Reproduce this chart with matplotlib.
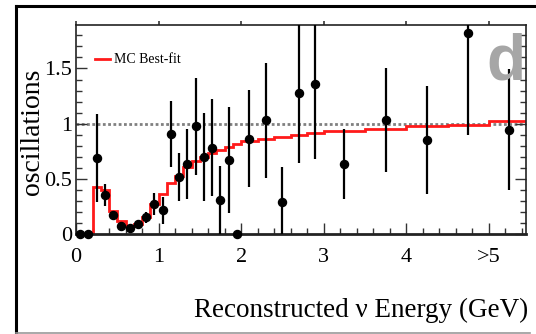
import matplotlib
matplotlib.use("Agg")
import matplotlib.pyplot as plt
from matplotlib.lines import Line2D
from matplotlib.ticker import MultipleLocator

plt.rcParams['font.family'] = ['Liberation Serif', 'DejaVu Serif']

# data points (bin centres, ratio, error)
x_pts = [0.05, 0.15, 0.25, 0.35, 0.45, 0.55, 0.65, 0.75, 0.85, 0.95,
         1.05, 1.15, 1.25, 1.35, 1.45, 1.55, 1.65, 1.75, 1.85, 1.95,
         2.1, 2.3, 2.5, 2.7, 2.9, 3.25, 3.75, 4.25, 4.75, 5.25]
y_pts = [0.0, 0.0, 0.69, 0.355, 0.17, 0.075, 0.05, 0.088, 0.15, 0.275,
         0.215, 0.905, 0.515, 0.636, 0.975, 0.70, 0.78, 0.31, 0.67, 0.0,
         0.864, 1.03, 0.294, 1.28, 1.36, 0.636, 1.03, 0.854, 1.82, 0.945]
y_err = [0.0, 0.0, 0.40, 0.10, 0.04, 0.03, 0.03, 0.03, 0.05, 0.10,
         0.12, 0.30, 0.22, 0.32, 0.44, 0.40, 0.44, 0.31, 0.48, 0.0,
         0.44, 0.52, 0.31, 0.64, 0.68, 0.32, 0.47, 0.49, 0.92, 0.55]

# MC best-fit histogram
mc_edges = [0.0, 0.1, 0.2, 0.3, 0.4, 0.5, 0.6, 0.7, 0.8, 0.9, 1.0,
            1.1, 1.2, 1.3, 1.4, 1.5, 1.6, 1.7, 1.8, 1.9, 2.0,
            2.2, 2.4, 2.6, 2.8, 3.0, 3.5, 4.0, 4.5, 5.0, 5.5]
mc_vals = [0.0, 0.0, 0.43, 0.40, 0.21, 0.12, 0.07, 0.09, 0.15, 0.27,
           0.36, 0.46, 0.53, 0.61, 0.665, 0.70, 0.735, 0.765, 0.79, 0.82,
           0.845, 0.865, 0.88, 0.895, 0.915, 0.935, 0.955, 0.975, 0.99, 1.02]

x_ticks = [0, 1, 2, 3, 4, 5]
x_tick_labels = ["0", "1", "2", "3", "4", ">5"]
y_ticks = [0, 0.5, 1, 1.5]
y_tick_labels = ["0", "0.5", "1", "1.5"]

W, H = 536, 334
fig = plt.figure(figsize=(W / 100, H / 100), dpi=100)
ax = fig.add_axes([76 / W, 1 - 234 / H, 450 / W, 209 / H])

ax.axhline(1.0, color="#808080", ls=(0, (1.0, 0.9)), lw=2.0, zorder=1)
ax.stairs(mc_vals, mc_edges, color="#ff1a1a", lw=2.0, baseline=None, zorder=2)

eb = ax.errorbar(x_pts, y_pts, yerr=y_err, fmt="o", color="black",
                 ms=5.8, elinewidth=1.6, capsize=0, zorder=3)
eb[0].set_clip_on(False)

ax.set_xlim(0, 5.45)
ax.set_ylim(0, 1.894)
ax.set_xticks(x_ticks, x_tick_labels, fontsize=16)
ax.set_yticks(y_ticks, y_tick_labels, fontsize=16)
ax.xaxis.set_minor_locator(MultipleLocator(0.2))
ax.yaxis.set_minor_locator(MultipleLocator(0.1))
ax.tick_params(which="both", direction="in", left=True, right=True,
               bottom=True, top=False, color="#333333", width=1.0)
ax.tick_params(which="major", length=8, pad=3)
ax.tick_params(which="minor", length=4)
ax.tick_params(axis="x", which="major", pad=10)
for s in ax.spines.values():
    s.set_linewidth(1.2)
    s.set_color("#222222")
ax.spines["bottom"].set_linewidth(2.0)

# small outward ticks along the top edge
top = ax.secondary_xaxis("top")
top.set_xticks(x_ticks, [""] * len(x_ticks))
top.tick_params(direction="out", length=3, width=1.2, color="#333333")
top.spines["top"].set_visible(False)

# legend
ax.plot([0.042, 0.076], [0.837, 0.837], transform=ax.transAxes,
        color="#ff1a1a", lw=2.0)
ax.text(0.084, 0.835, "MC Best-fit", transform=ax.transAxes,
        fontsize=10, va="center", ha="left")

# panel letter
ax.text(0.955, 0.737, "d", transform=ax.transAxes, fontsize=46,
        family="Liberation Sans", fontweight="bold", color="#a6a6a6",
        ha="center", va="baseline")

fig.text(528 / W, 1 - 317 / H, "Reconstructed \u03bd Energy (GeV)",
         fontsize=19.5, ha="right", va="baseline")
fig.text(45 / W, 1 - 132 / H, "oscillations", fontsize=20,
         rotation=90, ha="right", va="center")

# outer frame
fig.add_artist(Line2D([16 / W, 16 / W], [0, 1 - 6 / H], color="black", lw=2.2))
fig.add_artist(Line2D([16 / W, 1], [1 - 6 / H, 1 - 6 / H], color="black", lw=2.2))
fig.add_artist(Line2D([16 / W, 530 / W], [1.5 / H, 1.5 / H], color="#999999", lw=1.2))

fig.savefig("out.png", dpi=100)
